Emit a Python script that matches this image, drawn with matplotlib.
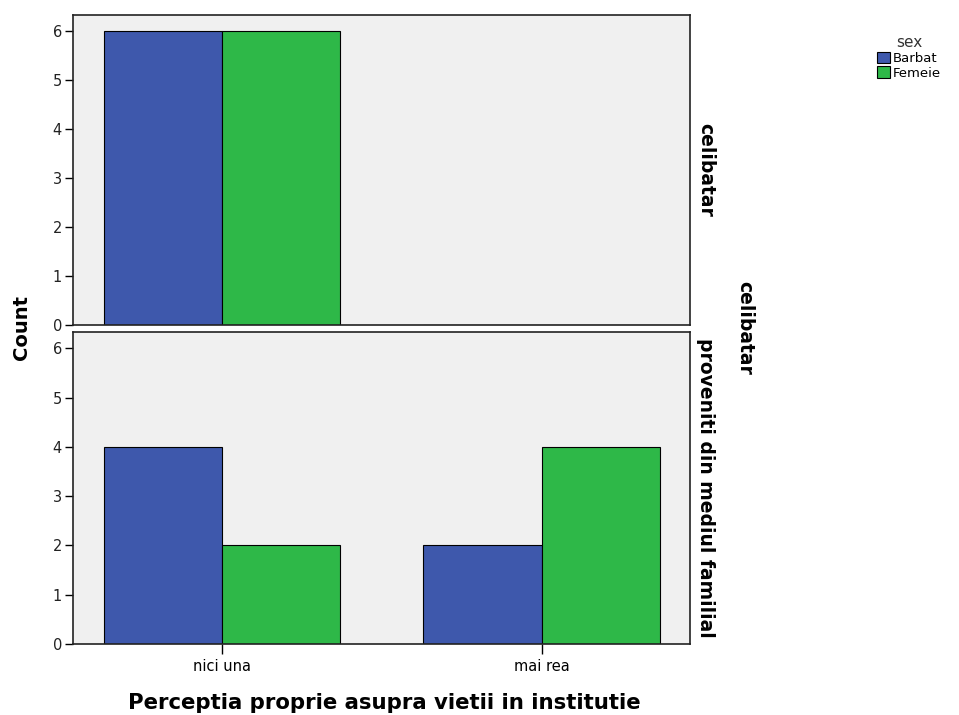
import matplotlib
matplotlib.use("Agg")
import matplotlib.pyplot as plt
from matplotlib.patches import Patch
import numpy as np

plt.rcParams['font.family'] = ['DejaVu Sans']

categories = ["nici una", "mai rea"]
groups = ["Barbat", "Femeie"]
panels = ["celibatar", "proveniti din mediul familial"]
counts = {
    "celibatar": {"Barbat": [6, 0], "Femeie": [6, 0]},
    "proveniti din mediul familial": {"Barbat": [4, 2], "Femeie": [2, 4]},
}
colors = {"Barbat": "#3E58AC", "Femeie": "#2EB848"}
yticks = [0, 1, 2, 3, 4, 5, 6]

W, H = 959, 715
fig = plt.figure(figsize=(W / 100, H / 100), dpi=100)

def px_axes(x0, y0, x1, y1):
    return fig.add_axes([x0 / W, 1 - y1 / H, (x1 - x0) / W, (y1 - y0) / H])

boxes = [(73, 15, 690, 325), (73, 332, 690, 644)]
bw = 0.37
x = np.arange(len(categories))
axes = []
for box, panel in zip(boxes, panels):
    ax = px_axes(*box)
    ax.set_facecolor("#F0F0F0")
    for i, g in enumerate(groups):
        vals = counts[panel][g]
        left = x - bw if i == 0 else x
        ax.bar(left, vals, width=bw, align="edge",
               color=colors[g], edgecolor="black", linewidth=0.8)
    ax.set_xlim(-0.466, 1.464)
    ax.set_ylim(0, 6.33)
    ax.set_yticks(yticks)
    ax.set_yticklabels([str(t) for t in yticks], fontsize=10.5, color="#222222")
    ax.tick_params(axis="y", direction="out", length=6, width=1, pad=2)
    for s in ax.spines.values():
        s.set_linewidth(1.2)
        s.set_color("#222222")
    ax.text(1.01, 0.5, panel, transform=ax.transAxes, rotation=-90,
            ha="left", va="center", fontsize=13.5, fontweight="bold")
    axes.append(ax)

axes[0].set_xticks([])
axes[1].set_xticks(x)
axes[1].set_xticklabels(categories, fontsize=10.5)
axes[1].tick_params(axis="x", direction="out", length=7, width=1, pad=4)

fig.text(745 / W, 1 - 328 / H, "celibatar", rotation=-90, ha="center",
         va="center", fontsize=13.5, fontweight="bold")
fig.text(21 / W, 1 - 327 / H, "Count", rotation=90, ha="center",
         va="center", fontsize=14, fontweight="bold")
fig.text(384 / W, 1 - 703 / H, "Perceptia proprie asupra vietii in institutie",
         ha="center", va="center", fontsize=15.3, fontweight="bold")

handles = [Patch(facecolor=colors[g], edgecolor="black", linewidth=0.8, label=g)
           for g in groups]
leg = fig.legend(handles=handles, title="sex", loc="upper left",
                 bbox_to_anchor=(868 / W, 1 - 26 / H), frameon=False,
                 fontsize=9.5, title_fontsize=11, handlelength=1.0,
                 handleheight=1.0, handletextpad=0.2, labelspacing=0.1,
                 borderpad=0.2)
leg.get_title().set_color("#333333")

fig.savefig("out.png", dpi=100)
